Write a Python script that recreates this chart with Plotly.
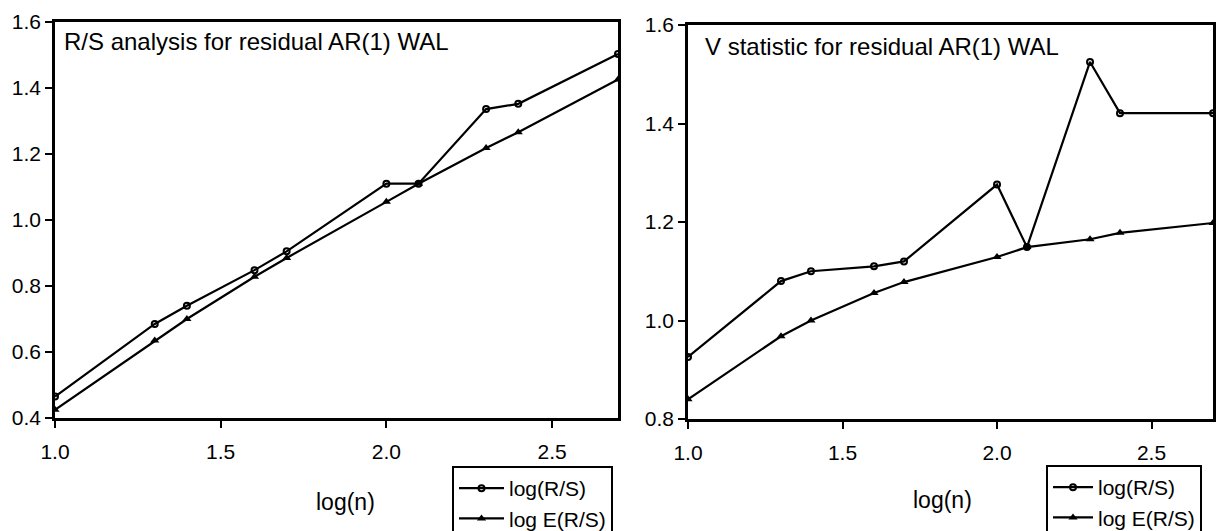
import plotly.graph_objects as go

log_n = [1.0, 1.301, 1.398, 1.602, 1.699, 2.0, 2.097, 2.301, 2.398, 2.699]

rs_log_rs = [0.465, 0.685, 0.740, 0.848, 0.905, 1.110, 1.110, 1.336, 1.352, 1.503]
rs_log_ers = [0.425, 0.635, 0.700, 0.828, 0.885, 1.055, 1.110, 1.218, 1.266, 1.426]

v_log_rs = [0.926, 1.080, 1.100, 1.110, 1.120, 1.276, 1.149, 1.525, 1.421, 1.421]
v_log_ers = [0.840, 0.968, 1.000, 1.056, 1.078, 1.129, 1.149, 1.165, 1.178, 1.198]

titles = ["R/S analysis for residual AR(1) WAL", "V statistic for residual AR(1) WAL"]
x_title = "log(n)"
names = ["log(R/S)", "log E(R/S)"]
x_ticks = [1.0, 1.5, 2.0, 2.5]

fig = go.Figure()

line = dict(color="black", width=2.2)
m_circle = dict(symbol="circle-open", size=6, color="black", line=dict(width=2, color="black"))
m_tri = dict(symbol="triangle-up", size=8, color="black")

fig.add_trace(go.Scatter(x=log_n, y=rs_log_rs, mode="lines+markers", name=names[0],
                         line=line, marker=m_circle, xaxis="x", yaxis="y", legend="legend"))
fig.add_trace(go.Scatter(x=log_n, y=rs_log_ers, mode="lines+markers", name=names[1],
                         line=line, marker=m_tri, xaxis="x", yaxis="y", legend="legend"))
fig.add_trace(go.Scatter(x=log_n, y=v_log_rs, mode="lines+markers", name=names[0],
                         line=line, marker=m_circle, xaxis="x2", yaxis="y2", legend="legend2"))
fig.add_trace(go.Scatter(x=log_n, y=v_log_ers, mode="lines+markers", name=names[1],
                         line=line, marker=m_tri, xaxis="x2", yaxis="y2", legend="legend2"))

FAM = "Liberation Sans, Arial, sans-serif"
tick_font = dict(family=FAM, size=21, color="black")
title_font = dict(family=FAM, size=24, color="black")
label_font = dict(family=FAM, size=23, color="black")
legend_font = dict(family=FAM, size=21, color="black")

axis_common = dict(showline=True, linecolor="black", linewidth=2.5, mirror=True,
                   ticks="outside", ticklen=7, tickwidth=2, tickcolor="black",
                   showgrid=False, zeroline=False, tickfont=tick_font, automargin=False)

W, H = 1216, 531
fig.update_layout(
    template="none",
    width=W, height=H,
    margin=dict(l=0, r=0, t=0, b=0, autoexpand=False),
    paper_bgcolor="white", plot_bgcolor="white",
    font=tick_font,
    xaxis=dict(domain=[55 / W, 618 / W], range=[1.0, 2.699], tickvals=x_ticks,
               tickformat=".1f", anchor="y", ticklabelstandoff=6, **axis_common),
    yaxis=dict(domain=[1 - 418 / H, 1 - 22 / H], range=[0.4, 1.6], dtick=0.2,
               tickformat=".1f", anchor="x", **axis_common),
    xaxis2=dict(domain=[688 / W, 1213 / W], range=[1.0, 2.699], tickvals=x_ticks,
                tickformat=".1f", anchor="y2", ticklabelstandoff=6, **axis_common),
    yaxis2=dict(domain=[1 - 419 / H, 1 - 25 / H], range=[0.8, 1.6], dtick=0.2,
                tickformat=".1f", anchor="x2", **axis_common),
    legend=dict(x=452 / W, y=1 - 466 / H, xanchor="left", yanchor="top",
                bordercolor="black", borderwidth=2, bgcolor="white",
                font=legend_font, itemwidth=45, tracegroupgap=0),
    legend2=dict(x=1046 / W, y=1 - 465 / H, xanchor="left", yanchor="top",
                 bordercolor="black", borderwidth=2, bgcolor="white",
                 font=legend_font, itemwidth=40, tracegroupgap=0),
    annotations=[
        dict(text=titles[0], xref="paper", yref="paper", x=62 / W, y=1 - 41 / H,
             xanchor="left", yanchor="middle", showarrow=False, font=title_font),
        dict(text=titles[1], xref="paper", yref="paper", x=703 / W, y=1 - 46 / H,
             xanchor="left", yanchor="middle", showarrow=False, font=title_font),
        dict(text=x_title, xref="paper", yref="paper", x=345 / W, y=1 - 502 / H,
             xanchor="center", yanchor="middle", showarrow=False, font=label_font),
        dict(text=x_title, xref="paper", yref="paper", x=942 / W, y=1 - 500 / H,
             xanchor="center", yanchor="middle", showarrow=False, font=label_font),
    ],
)

fig.write_html("out.html")
